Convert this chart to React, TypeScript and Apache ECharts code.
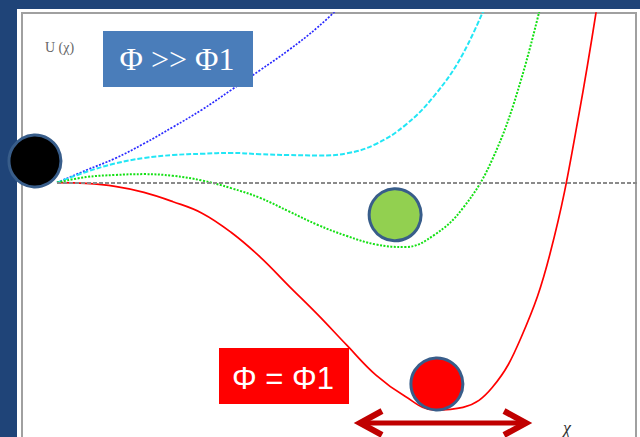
import React, { useEffect, useRef } from "react";
import * as echarts from "echarts";

// sampled potential curves U(χ), χ from 0 in steps of xStep
const xStep = 0.5;
const blueU = [0, 0.29, 0.57, 0.92, 1.31, 1.72, 2.18, 2.65, 3.13, 3.67, 4.31];
const cyanU = [0, 0.25, 0.45, 0.58, 0.65, 0.68, 0.7, 0.67, 0.65, 0.64, 0.69, 0.91, 1.35, 2.04, 3.04, 4.54];
const greenU = [0, 0.13, 0.18, 0.2, 0.16, 0.05, -0.13, -0.36, -0.68, -1.0, -1.26, -1.46, -1.52, -1.24, -0.6, 0.53, 2.42, 5.1];
const redU = [0, -0.02, -0.09, -0.23, -0.45, -0.72, -1.17, -1.75, -2.44, -3.12, -3.84, -4.54, -5.04, -5.36, -5.3, -4.84, -3.66, -1.68, 1.62, 5.86];

// balls (χ, U)
const ballStart = [-0.38, 0.51];
const ballGreen = [5.83, -0.76];
const ballRed = [6.55, -4.75];

const labelTop = "Φ >> Φ1";
const labelBottom = "Φ = Φ1";
const yName = "U (χ)";
const xName = "χ";

const toPairs = (arr: number[]) => arr.map((v, i) => [i * xStep, v]);

export default function App() {
  const ref = useRef<HTMLDivElement>(null);
  useEffect(() => {
    if (!ref.current) return;
    const chart = echarts.init(ref.current, null, { renderer: "svg" });
    const ball = (p: number[], color: string) => ({
      type: "scatter",
      clip: false,
      z: 5,
      symbol: "circle",
      symbolSize: 52,
      itemStyle: { color, borderColor: "#385d8a", borderWidth: 3, opacity: 1 },
      emphasis: { disabled: true },
      data: [p],
    });
    chart.setOption({
      animation: false,
      backgroundColor: "#1f4478",
      grid: { left: 57, top: 13, width: 580, height: 424 },
      xAxis: { type: "value", min: 0, max: 10, show: false },
      yAxis: { type: "value", min: -6, max: 4, show: false },
      graphic: [
        { type: "rect", z: -10, shape: { x: 17, y: 9, width: 623, height: 428 }, style: { fill: "#ffffff" } },
        { type: "rect", z: -9, shape: { x: 22, y: 13, width: 614, height: 440 }, style: { fill: "none", stroke: "#a0a0a0", lineWidth: 2 } },
        { type: "text", z: 10, x: 45, y: 47, style: { text: yName, font: "14px 'Liberation Serif'", fill: "#666", textVerticalAlign: "middle" } },
        { type: "text", z: 10, x: 567, y: 428, style: { text: xName, font: "italic 18px 'Liberation Serif'", fill: "#333", textAlign: "center", textVerticalAlign: "middle" } },
        { type: "rect", z: 10, shape: { x: 103, y: 31, width: 150, height: 56 }, style: { fill: "#4a7dba" } },
        { type: "text", z: 11, x: 177, y: 59, style: { text: labelTop, font: "32px 'Liberation Serif'", fill: "#fff", textAlign: "center", textVerticalAlign: "middle" } },
        { type: "rect", z: 10, shape: { x: 219, y: 348, width: 130, height: 56 }, style: { fill: "#ff0000" } },
        { type: "text", z: 11, x: 283, y: 378, style: { text: labelBottom, font: "31px 'Liberation Sans'", fill: "#fff", textAlign: "center", textVerticalAlign: "middle" } },
        { type: "line", z: 10, shape: { x1: 363, y1: 423, x2: 522, y2: 423 }, style: { stroke: "#c00000", lineWidth: 5 } },
        { type: "polyline", z: 10, shape: { points: [[382, 411], [360, 423], [382, 435]] }, style: { stroke: "#c00000", lineWidth: 6, fill: "none" } },
        { type: "polyline", z: 10, shape: { points: [[504, 411], [526, 423], [504, 435]] }, style: { stroke: "#c00000", lineWidth: 6, fill: "none" } },
      ],
      series: [
        {
          type: "line", smooth: 0.4, showSymbol: false, data: toPairs(redU), z: 3,
          lineStyle: { color: "#ff0000", width: 1.7 },
          markLine: {
            silent: true, symbol: "none", label: { show: false },
            lineStyle: { color: "#8a8a8a", width: 2, type: [4, 2] },
            data: [{ yAxis: 0 }],
          },
        },
        { type: "line", smooth: 0.4, showSymbol: false, data: toPairs(blueU), z: 3, lineStyle: { color: "#2a2aff", width: 1.7, type: [2, 1.5] } },
        { type: "line", smooth: 0.4, showSymbol: false, data: toPairs(cyanU), z: 3, lineStyle: { color: "#22e6f5", width: 2, type: [5, 2] } },
        { type: "line", smooth: 0.4, showSymbol: false, data: toPairs(greenU), z: 3, lineStyle: { color: "#14e014", width: 2, type: [2, 1.5] } },
        ball(ballStart, "#000000"),
        ball(ballGreen, "#92d050"),
        ball(ballRed, "#ff0000"),
      ],
    });
    return () => chart.dispose();
  }, []);
  return <div ref={ref} style={{ position: "absolute", left: 0, top: 0, width: 640, height: 437 }} />;
}
